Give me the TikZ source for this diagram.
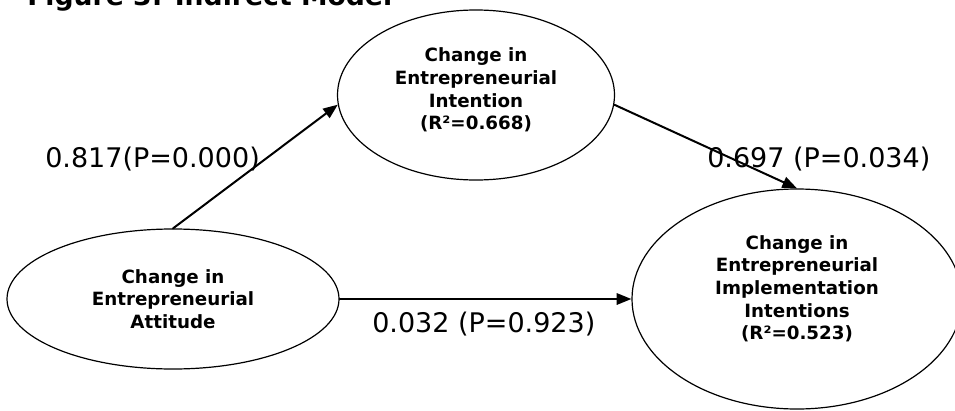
\documentclass[tikz,border=0pt]{standalone}
\usepackage{fontspec}
\setmainfont{DejaVu Sans}
\usetikzlibrary{shapes.geometric,arrows.meta}
\begin{document}
\begin{tikzpicture}[x=.75pt,y=-.75pt,line cap=round,line join=round,
  konstrukt/.style={ellipse,draw=black,line width=.9pt,inner sep=0pt,align=center,
    font=\fontsize{13.7}{17}\selectfont\bfseries},
  pfad/.style={line width=1.5pt,-{Triangle[length=11pt,width=8.5pt]}},
  koeff/.style={font=\fontsize{20.25}{24}\selectfont,anchor=base west,inner sep=0pt}]
\useasboundingbox (0,0) rectangle (955,410);
\node[font=\fontsize{20}{24}\selectfont\bfseries,anchor=base west,inner sep=0pt] (titel) at (27,6){Figure 3: Indirect Model};
% Drei Konstrukte als Ellipsen.
\node[konstrukt,minimum width=249pt,minimum height=105pt] (haltung) at (173,299)
 {Change in\\Entrepreneurial\\Attitude};
\node[konstrukt,minimum width=207.75pt,minimum height=127.5pt] (absicht) at (476,95)
 {Change in\\Entrepreneurial\\Intention\\(R²=0.668)\\[-8pt]\mbox{}};
\node[konstrukt,minimum width=247.5pt,minimum height=165pt] (umsetzung) at (797,299)
 {Change in\\Entrepreneurial\\Implementation\\Intentions\\(R²=0.523)\\[0pt]\mbox{}};
% Pfade mit Koeffizienten.
\draw[pfad] (haltung.north) -- (absicht.184);
\draw[pfad] (absicht.-4) -- (umsetzung.north);
\draw[pfad] (haltung.east) -- (umsetzung.west);
\node[koeff] (k1) at (45,167){0.817(P=0.000)};
\node[koeff] (k2) at (707,167){0.697 (P=0.034)};
\node[koeff] (k3) at (372,332){0.032 (P=0.923)};
\end{tikzpicture}
\end{document}
